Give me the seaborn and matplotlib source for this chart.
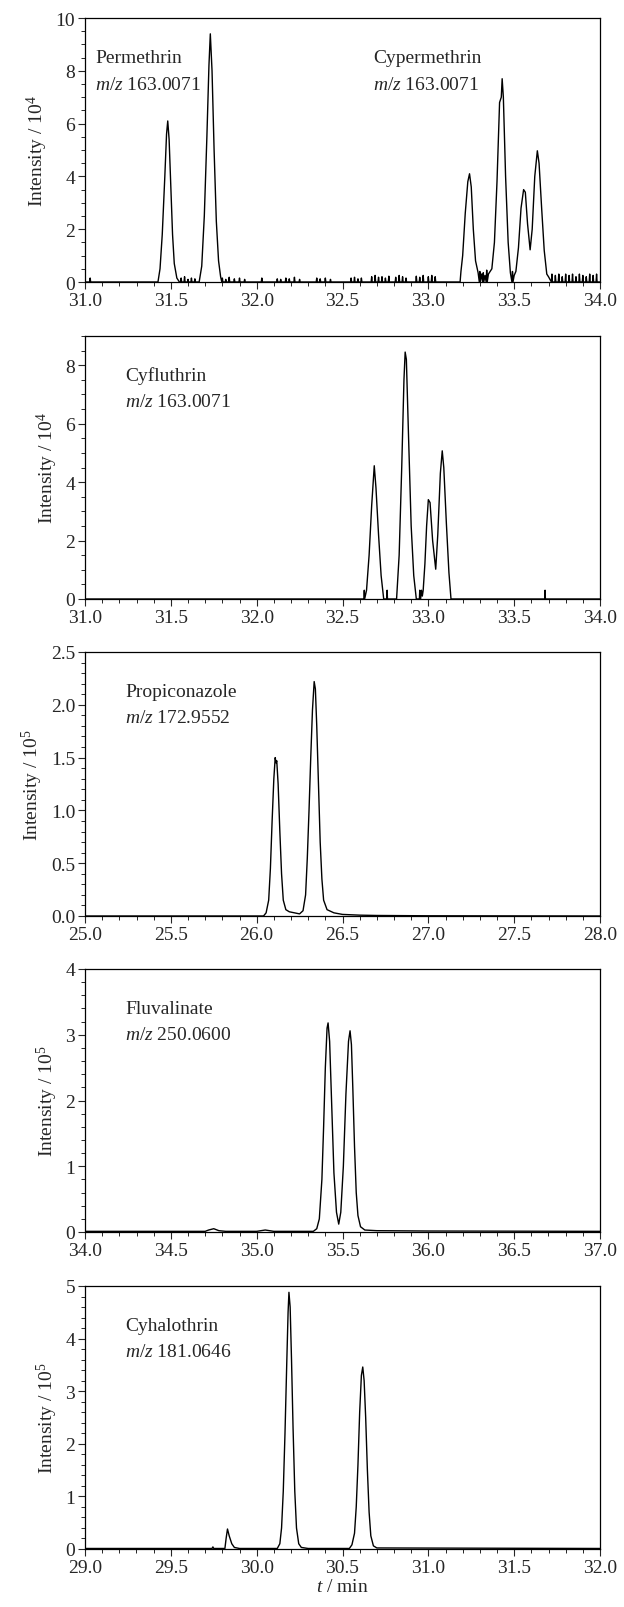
import numpy as np
import pandas as pd
import matplotlib
matplotlib.use("Agg")
import matplotlib.pyplot as plt
from matplotlib.ticker import MultipleLocator
import seaborn as sns

# ==========================================
# 1. DATA
# ==========================================
# --- Permethrin / Cypermethrin, m/z 163.0071 (x 10^4) ---
perm_t = [31.0, 31.425, 31.437, 31.45, 31.465, 31.475, 31.482, 31.49, 31.50, 31.51, 31.52, 31.535, 31.55,
          31.665, 31.68, 31.695, 31.71, 31.722, 31.73, 31.74, 31.752, 31.765, 31.778, 31.79, 31.80,
          33.185, 33.19, 33.20, 33.215, 33.23, 33.24, 33.25, 33.262, 33.275, 33.29, 33.31, 33.33, 33.35,
          33.37, 33.385, 33.40, 33.415, 33.425, 33.43, 33.437, 33.45, 33.465, 33.478, 33.49, 33.50,
          33.51, 33.525, 33.54, 33.555, 33.565, 33.578, 33.593, 33.605, 33.62, 33.635, 33.645, 33.66,
          33.675, 33.69, 33.70, 34.0]
perm_y = [0, 0, 0.5, 1.8, 4.0, 5.6, 6.1, 5.4, 3.6, 1.8, 0.7, 0.15, 0,
          0, 0.6, 2.5, 5.5, 8.2, 9.4, 8.0, 5.0, 2.3, 0.8, 0.2, 0,
          0, 0.4, 1.0, 2.6, 3.8, 4.1, 3.6, 2.0, 0.8, 0.35, 0.3, 0.25, 0.3,
          0.5, 1.5, 3.8, 6.8, 7.0, 7.7, 7.0, 4.0, 1.5, 0.35, 0.3, 0.25,
          0.4, 1.3, 2.8, 3.5, 3.4, 2.2, 1.22, 2.0, 4.0, 4.97, 4.5, 2.8,
          1.2, 0.3, 0.2, 0.0]
perm_noise_t = [31.03, 31.56, 31.58, 31.60, 31.62, 31.64, 31.80, 31.82, 31.84, 31.87, 31.90, 31.93,
                32.03, 32.12, 32.14, 32.17, 32.19, 32.22, 32.25, 32.35, 32.37, 32.40, 32.43,
                32.55, 32.57, 32.59, 32.61, 32.67, 32.69, 32.71, 32.73, 32.75, 32.77,
                32.81, 32.83, 32.85, 32.87, 32.93, 32.95, 32.97, 33.00, 33.02, 33.04,
                33.30, 33.32, 33.34, 33.49, 33.72, 33.74, 33.76, 33.78, 33.80, 33.82, 33.84,
                33.86, 33.88, 33.90, 33.92, 33.94, 33.96, 33.98]
perm_noise_y = [0.15, 0.15, 0.2, 0.1, 0.15, 0.12, 0.15, 0.1, 0.18, 0.12, 0.15, 0.1,
                0.15, 0.12, 0.1, 0.15, 0.12, 0.18, 0.1, 0.15, 0.12, 0.15, 0.1,
                0.15, 0.18, 0.12, 0.15, 0.2, 0.25, 0.18, 0.2, 0.15, 0.22,
                0.18, 0.25, 0.2, 0.15, 0.22, 0.18, 0.25, 0.2, 0.25, 0.2,
                0.4, 0.35, 0.45, 0.4, 0.3, 0.25, 0.3, 0.2, 0.3, 0.25, 0.3,
                0.2, 0.3, 0.25, 0.2, 0.3, 0.25, 0.3]

# --- Cyfluthrin, m/z 163.0071 (x 10^4) ---
cyfl_t = [31.0, 32.625, 32.627, 32.629, 32.64, 32.655, 32.67, 32.685, 32.695, 32.71, 32.725, 32.74,
          32.758, 32.76, 32.762, 32.815, 32.83, 32.845, 32.858, 32.865, 32.872, 32.885, 32.90, 32.915,
          32.93, 32.948, 32.95, 32.955, 32.96, 32.965, 32.97, 32.98, 32.99, 33.0, 33.01, 33.025, 33.043,
          33.055, 33.07, 33.081, 33.09, 33.105, 33.12, 33.132, 33.678, 33.68, 33.682, 34.0]
cyfl_y = [0, 0, 0.3, 0, 0.3, 1.5, 3.2, 4.56, 3.8, 2.2, 0.8, 0,
          0, 0.3, 0, 0, 1.5, 4.5, 7.5, 8.45, 8.2, 5.5, 2.5, 0.8,
          0, 0, 0.3, 0, 0.3, 0.1, 0.3, 1.2, 2.5, 3.4, 3.3, 2.0, 1.02,
          2.2, 4.3, 5.07, 4.5, 2.6, 0.9, 0, 0, 0.3, 0, 0]

# --- Propiconazole, m/z 172.9552 (x 10^5) ---
prop_t = [25.0, 26.04, 26.055, 26.07, 26.08, 26.09, 26.10, 26.108, 26.113, 26.117, 26.125, 26.135,
          26.145, 26.155, 26.17, 26.19, 26.22, 26.25, 26.27, 26.285, 26.295, 26.305, 26.315, 26.325,
          26.335, 26.342, 26.35, 26.36, 26.37, 26.38, 26.39, 26.41, 26.45, 26.5, 26.6, 26.7, 27.0, 28.0]
prop_y = [0, 0, 0.03, 0.15, 0.45, 0.9, 1.3, 1.5, 1.45, 1.47, 1.25, 0.8,
          0.4, 0.15, 0.06, 0.04, 0.03, 0.02, 0.05, 0.2, 0.55, 1.0, 1.5, 1.95,
          2.22, 2.15, 1.8, 1.25, 0.7, 0.35, 0.15, 0.06, 0.03, 0.015, 0.008, 0.005, 0.002, 0]

# --- Fluvalinate, m/z 250.0600 (x 10^5) ---
fluv_t = [34.0, 34.7, 34.72, 34.75, 34.78, 34.82, 35.0, 35.05, 35.1, 35.33, 35.35, 35.365, 35.38,
          35.39, 35.40, 35.41, 35.416, 35.425, 35.435, 35.45, 35.465, 35.478, 35.49, 35.505, 35.52,
          35.535, 35.544, 35.552, 35.56, 35.57, 35.58, 35.59, 35.605, 35.63, 35.7, 36.0, 37.0]
fluv_y = [0.01, 0.01, 0.03, 0.05, 0.02, 0.01, 0.01, 0.03, 0.01, 0.01, 0.05, 0.2, 0.8,
          1.6, 2.5, 3.1, 3.18, 2.9, 2.1, 0.9, 0.3, 0.12, 0.3, 1.0, 2.1,
          2.9, 3.06, 2.85, 2.2, 1.3, 0.6, 0.25, 0.08, 0.03, 0.02, 0.015, 0.01]

# --- Cyhalothrin, m/z 181.0646 (x 10^5) ---
cyha_t = [29.0, 29.74, 29.745, 29.75, 29.815, 29.822, 29.83, 29.84, 29.855, 29.87, 29.9, 30.12,
          30.135, 30.145, 30.155, 30.165, 30.175, 30.183, 30.188, 30.195, 30.203, 30.212, 30.222,
          30.232, 30.245, 30.26, 30.3, 30.54, 30.555, 30.57, 30.58, 30.59, 30.6, 30.61, 30.618,
          30.626, 30.635, 30.645, 30.655, 30.665, 30.68, 30.7, 32.0]
cyha_y = [0.01, 0.01, 0.04, 0.01, 0.01, 0.2, 0.38, 0.25, 0.1, 0.03, 0.01, 0.01,
          0.1, 0.4, 1.1, 2.2, 3.5, 4.5, 4.88, 4.6, 3.6, 2.3, 1.1,
          0.4, 0.1, 0.03, 0.01, 0.01, 0.08, 0.3, 0.8, 1.6, 2.6, 3.3, 3.46,
          3.2, 2.5, 1.5, 0.7, 0.25, 0.06, 0.02, 0.01]

x_lims = [(31, 34), (31, 34), (25, 28), (34, 37), (29, 32)]
y_lims = [(0, 10), (0, 9), (0, 2.5), (0, 4), (0, 5)]
y_major = [2, 2, 0.5, 1, 1]
y_minor = [0.5, 0.5, 0.1, 0.2, 0.2]
y_labels = ["Intensity / 10$^4$", "Intensity / 10$^4$", "Intensity / 10$^5$",
            "Intensity / 10$^5$", "Intensity / 10$^5$"]
names = [["Permethrin", "Cypermethrin"], ["Cyfluthrin"], ["Propiconazole"],
         ["Fluvalinate"], ["Cyhalothrin"]]
mz = [["163.0071", "163.0071"], ["163.0071"], ["172.9552"], ["250.0600"], ["181.0646"]]


def add_spikes(t, y, st, sy):
    # merge short baseline spikes into the trace
    pts = list(zip(t, y))
    for a, b in zip(st, sy):
        pts += [(a - 0.003, 0.0), (a, b), (a + 0.003, 0.0)]
    pts.sort(key=lambda p: p[0])
    return pd.DataFrame(pts, columns=["t", "y"])


traces = [
    add_spikes(perm_t, perm_y, perm_noise_t, perm_noise_y),
    pd.DataFrame({"t": cyfl_t, "y": cyfl_y}),
    pd.DataFrame({"t": prop_t, "y": prop_y}),
    pd.DataFrame({"t": fluv_t, "y": fluv_y}),
    pd.DataFrame({"t": cyha_t, "y": cyha_y}),
]

# ==========================================
# 2. STYLE
# ==========================================
sns.set_style("ticks")
plt.rcParams["font.family"] = ["Liberation Serif", "DejaVu Serif"]
plt.rcParams["mathtext.fontset"] = "custom"
plt.rcParams["mathtext.rm"] = "Liberation Serif"
plt.rcParams["mathtext.it"] = "Liberation Serif:italic"
FS = 14

fig = plt.figure(figsize=(6.24, 16.08), dpi=100)
W, H = 624, 1608
boxes = [(19, 283), (337, 600), (653, 917), (970, 1233), (1287, 1550)]
text_x = [[0.02, 0.56], [0.078], [0.078], [0.078], [0.078]]

for i, (top, bot) in enumerate(boxes):
    ax = fig.add_axes([85 / W, 1 - bot / H, 515 / W, (bot - top) / H])
    sns.lineplot(data=traces[i], x="t", y="y", ax=ax, color="black", lw=1.0,
                 sort=False, estimator=None)
    ax.set_xlim(*x_lims[i])
    ax.set_ylim(*y_lims[i])
    ax.xaxis.set_major_locator(MultipleLocator(0.5))
    ax.xaxis.set_minor_locator(MultipleLocator(0.1))
    ax.yaxis.set_major_locator(MultipleLocator(y_major[i]))
    ax.yaxis.set_minor_locator(MultipleLocator(y_minor[i]))
    if i == 2:
        ax.yaxis.set_major_formatter(matplotlib.ticker.FormatStrFormatter("%.1f"))
    else:
        ax.yaxis.set_major_formatter(matplotlib.ticker.FormatStrFormatter("%d"))
    ax.xaxis.set_major_formatter(matplotlib.ticker.FormatStrFormatter("%.1f"))
    ax.tick_params(which="major", direction="out", length=5, width=0.8, labelsize=FS, pad=2)
    ax.tick_params(which="minor", direction="out", length=3, width=0.7)
    for s in ax.spines.values():
        s.set_linewidth(0.9)
        s.set_color("black")
    ax.set_ylabel(y_labels[i], fontsize=FS, labelpad=4)
    if i == 4:
        ax.set_xlabel("$t$ / min", fontsize=FS, labelpad=2)
    else:
        ax.set_xlabel("")
    for nm, m, tx in zip(names[i], mz[i], text_x[i]):
        ax.text(tx, 0.85, nm, transform=ax.transAxes, fontsize=FS, va="center", ha="left")
        ax.text(tx, 0.75, "$m/z$ " + m, transform=ax.transAxes, fontsize=FS, va="center", ha="left")

fig.savefig("out.png", dpi=100)
